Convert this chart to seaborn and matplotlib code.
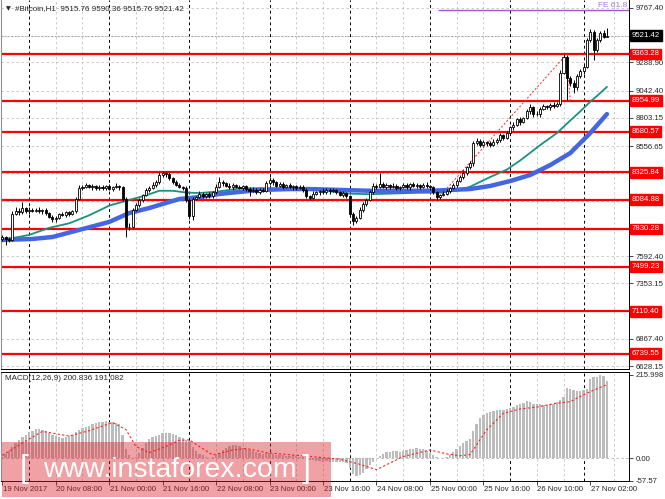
import numpy as np
import matplotlib
matplotlib.use("Agg")
import matplotlib.pyplot as plt
import matplotlib.transforms as mtransforms
from matplotlib.patches import Rectangle
import seaborn as sns

# hourly candles, bar 0 = 19 Nov 16:00
first_open = 7745
closes = [
    7760, 7740, 7735, 7965, 7990, 7975, 8010, 7985, 8000, 7990,
    8000, 7985, 7995, 7970, 7935, 7915, 7930, 7960, 7950, 7975,
    7960, 7985, 8090, 8190, 8200, 8215, 8195, 8205, 8185, 8200,
    8190, 8205, 8180, 8195, 8210, 8195, 8090, 7845, 7850, 8000,
    8040, 8085, 8125, 8170, 8190, 8215, 8240, 8300, 8320, 8310,
    8275, 8245, 8215, 8200, 8190, 8085, 7940, 8095, 8110, 8140,
    8120, 8135, 8115, 8150, 8200, 8245, 8230, 8210, 8195, 8215,
    8200, 8190, 8205, 8180, 8160, 8175, 8155, 8170, 8165, 8230,
    8260, 8240, 8210, 8225, 8200, 8215, 8195, 8205, 8190, 8200,
    8170, 8120, 8105, 8140, 8150, 8165, 8150, 8175, 8160, 8170,
    8150, 8130, 8145, 8115, 7960, 7900, 7925, 8000, 8050, 8085,
    8150, 8210, 8200, 8225, 8200, 8215, 8195, 8210, 8190, 8200,
    8215, 8195, 8225, 8205, 8215, 8200, 8220, 8205, 8195, 8150,
    8110, 8125, 8140, 8165, 8190, 8215, 8250, 8285, 8320, 8370,
    8405, 8585, 8600, 8570, 8595, 8580, 8565, 8595, 8610, 8650,
    8630, 8670, 8720, 8745, 8790, 8770, 8800, 8860, 8895, 8840,
    8835, 8880, 8905, 8895, 8915, 8905, 8925, 9200, 9340, 9150,
    9110, 9070, 9170, 9210, 9250, 9486, 9556, 9398, 9486, 9547,
    9516, 9521.42,
]
wick_hi = [
    15, 10, 20, 25, 30, 20, 57, 15, 20, 10,
    15, 20, 10, 15, 10, 20, 15, 10, 20, 15,
    10, 15, 20, 25, 15, 20, 10, 20, 15, 20,
    15, 10, 20, 15, 20, 10, 15, 20, 30, 15,
    20, 15, 10, 20, 15, 25, 20, 30, 20, 15,
    20, 10, 15, 20, 10, 15, 20, 15, 10, 20,
    15, 10, 20, 15, 25, 40, 15, 10, 20, 15,
    10, 20, 15, 10, 15, 20, 10, 15, 20, 25,
    30, 15, 10, 20, 15, 10, 20, 15, 10, 15,
    20, 15, 10, 20, 15, 10, 20, 15, 10, 15,
    10, 15, 20, 10, 15, 20, 15, 25, 20, 15,
    20, 25, 15, 95, 20, 15, 10, 20, 15, 10,
    15, 20, 10, 15, 20, 10, 15, 20, 10, 15,
    10, 15, 20, 15, 10, 20, 15, 20, 25, 15,
    20, 15, 25, 20, 15, 10, 20, 25, 15, 20,
    15, 20, 10, 25, 15, 20, 15, 20, 30, 15,
    20, 15, 20, 15, 20, 25, 15, 20, 25, 15,
    20, 25, 15, 20, 15, 20, 26, 15, 20, 15,
    25, 69,
]
wick_lo = [
    20, 50, 15, 10, 15, 20, 10, 15, 20, 15,
    10, 15, 20, 15, 10, 20, 25, 15, 10, 15,
    15, 10, 15, 10, 20, 15, 10, 20, 15, 10,
    15, 20, 10, 15, 10, 20, 15, 85, 25, 15,
    10, 20, 15, 10, 15, 10, 20, 15, 10, 20,
    15, 20, 10, 15, 20, 15, 20, 30, 15, 10,
    20, 15, 10, 15, 10, 15, 20, 10, 15, 20,
    15, 10, 20, 15, 40, 10, 20, 15, 10, 15,
    10, 20, 15, 10, 20, 15, 10, 20, 15, 10,
    15, 20, 25, 10, 15, 20, 10, 15, 20, 10,
    15, 10, 20, 15, 20, 35, 15, 10, 20, 15,
    10, 15, 20, 15, 10, 20, 15, 10, 15, 20,
    10, 15, 20, 10, 15, 20, 10, 15, 20, 15,
    25, 15, 10, 15, 20, 10, 15, 10, 20, 15,
    10, 20, 15, 25, 15, 20, 15, 10, 20, 15,
    20, 15, 10, 20, 15, 25, 15, 10, 20, 30,
    15, 20, 10, 15, 20, 15, 10, 20, 15, 190,
    30, 48, 20, 15, 20, 10, 15, 88, 20, 15,
    10, 0,
]

# moving averages (sampled along the chart)
teal_idx = [0, 8, 14, 20, 26, 32, 38, 43, 47, 51, 55, 59, 65, 71, 77, 83, 89,
            95, 98, 104, 110, 116, 125, 131, 136, 140, 146, 151, 155, 161, 166,
            170, 173, 176, 178, 181]
teal_val = [7734, 7778, 7840, 7880, 7950, 8035, 8085, 8125, 8165, 8165, 8150,
            8145, 8160, 8185, 8188, 8182, 8188, 8175, 8160, 8140, 8135, 8140,
            8148, 8148, 8168, 8200, 8285, 8350, 8430, 8565, 8670, 8780, 8860,
            8945, 8995, 9075]
blue_idx = [0, 9, 15, 23, 32, 38, 44, 50, 53, 59, 65, 71, 77, 86, 92, 98, 104,
            110, 116, 128, 134, 140, 146, 152, 158, 164, 170, 176, 181]
blue_val = [7734, 7743, 7760, 7822, 7892, 7970, 8014, 8067, 8093, 8110, 8137,
            8155, 8172, 8180, 8180, 8175, 8170, 8165, 8165, 8165, 8172, 8180,
            8207, 8250, 8303, 8390, 8495, 8671, 8837]

# MACD(12,26,9)
macd_hist = [
    5, 12, 20, 30, 40, 48, 55, 62, 68, 72,
    76, 77, 74, 70, 66, 62, 58, 55, 54, 55,
    58, 62, 68, 74, 78, 82, 85, 90, 93, 95,
    95, 96, 95, 94, 93, 90, 60, 25, 8, 2,
    5, 15, 28, 40, 50, 55, 58, 62, 65, 66,
    66, 64, 60, 56, 52, 48, 44, 30, 20, 12,
    8, 4, 2, 3, 8, 15, 22, 28, 33, 36,
    35, 32, 28, 25, 22, 19, 16, 14, 12, 14,
    15, 12, 10, 8, 9, 7, 6, 8, 7, 5,
    3, -2, -5, -4, -6, -7, -8, -6, -9, -10,
    -8, -9, -10, -12, -25, -40, -46, -44, -38, -28,
    -18, -8, 0, 6, 12, 16, 18, 19, 20, 18,
    20, 22, 24, 25, 26, 25, 24, 20, 14, 8,
    3, 0, 2, 5, 10, 18, 25, 32, 40, 45,
    50, 70, 90, 105, 113, 117, 120, 124, 125, 126,
    126, 128, 130, 134, 138, 140, 143, 149, 145, 142,
    140, 141, 138, 139, 142, 140, 145, 150, 160, 182,
    180, 178, 175, 174, 176, 180, 205, 210, 212, 216,
    214, 201,
]
signal_idx = [0, 6, 12, 20, 26, 33, 37, 40, 44, 49, 53, 56, 59, 63, 69, 73, 79,
              87, 95, 101, 107, 112, 120, 128, 133, 137, 140, 145, 150, 155,
              160, 166, 170, 176, 181]
signal_val = [8, 40, 70, 58, 72, 93, 75, 31, 15, 31, 47, 48, 31, 9, 22, 26, 15,
              9, 3, -2, -15, -29, 5, 22, 12, 7, 10, 74, 117, 128, 133, 143,
              147, 173, 191]

# levels and labels
levels = [9363.28, 8954.99, 8680.57, 8325.84, 8084.88, 7830.28, 7499.23,
          7110.40, 6739.55]
price_ticks = [9767.40, 9288.90, 9042.40, 8803.15, 8556.65, 7592.40, 7353.15,
               6867.40, 6628.15]
grid_levels = [9767.40, 9525.0, 9288.90, 9042.40, 8803.15, 8556.65, 8318.0,
               8077.0, 7835.5, 7592.40, 7353.15, 7111.0, 6867.40, 6628.15]
last_price = 9521.42
fe_level = 9745
fib_idx = [130, 169, 170]
fib_val = [8084.88, 9363.28, 8954.99]

date_idx = [0, 16, 32, 48, 64, 80, 96, 112, 128, 144, 160, 176]
date_labels = ["19 Nov 2017", "20 Nov 08:00", "21 Nov 00:00", "21 Nov 16:00",
               "22 Nov 08:00", "23 Nov 00:00", "23 Nov 16:00", "24 Nov 08:00",
               "25 Nov 00:00", "25 Nov 16:00", "26 Nov 10:00", "27 Nov 02:00"]
day_breaks = [8, 32, 56, 80, 104, 128, 152, 174]
grid_bars = [16, 24, 40, 48, 64, 72, 88, 96, 112, 120, 136, 144, 160, 168, 183]

sns.set_style("white")
plt.rcParams["font.family"] = ["Liberation Sans", "DejaVu Sans"]

W, H = 665, 499
fig = plt.figure(figsize=(W / 100, H / 100), dpi=100)
ax = fig.add_axes([1 / W, 1 - 369 / H, 628 / W, 369 / H])
mx = fig.add_axes([1 / W, 1 - 481 / H, 628 / W, 109 / H])

XMIN, XMAX = -0.39, 187.6
GRID = "#c4c4c4"
DASH = (0, (3, 3))
FS = 5.6

for a in (ax, mx):
    for g in grid_bars:
        a.axvline(g, color=GRID, lw=0.6, ls=DASH, zorder=1)
    for d in day_breaks:
        a.axvline(d, color="black", lw=0.7, ls=DASH, zorder=1)

for g in grid_levels:
    ax.axhline(g, color=GRID, lw=0.6, ls=DASH, zorder=1)
ax.axhline(last_price, color="#9a9a9a", lw=0.6, ls=(0, (2, 2)), zorder=1)

for lv in levels:
    ax.axhline(lv, color="#ff0000", lw=1.6, zorder=2)
ax.hlines(fe_level, 130.4, XMAX, color="#a555dd", lw=1.0, zorder=2)
ax.plot(fib_idx, fib_val, color="#ff2020", lw=0.7, ls=(0, (2, 2)), zorder=3)

# moving averages
sns.lineplot(x=teal_idx, y=teal_val, ax=ax, color="#1a9080", lw=1.3, zorder=3)
sns.lineplot(x=blue_idx, y=blue_val, ax=ax, color="#4466e0", lw=3.2, zorder=3)

# candles
c = np.array(closes, dtype=float)
o = np.array([first_open] + closes[:-1], dtype=float)
top = np.maximum(o, c)
bot = np.minimum(o, c)
hi = top + np.array(wick_hi)
lo = bot - np.array(wick_lo)
x = np.arange(len(c))
ax.vlines(x, lo, hi, color="black", lw=0.7, zorder=4)
body = np.maximum(top - bot, 4)
up = c >= o
ax.bar(x[up], body[up], bottom=bot[up], width=0.62, color="white",
       edgecolor="black", lw=0.6, zorder=5)
ax.bar(x[~up], body[~up], bottom=bot[~up], width=0.62, color="black",
       edgecolor="black", lw=0.6, zorder=5)

ax.set_xlim(XMIN, XMAX)
ax.set_ylim(6604, 9836)
ax.set_xticks([])
ax.yaxis.tick_right()
ax.set_yticks(price_ticks)
ax.set_yticklabels([f"{v:.2f}" for v in price_ticks])
ax.tick_params(axis="y", length=3, width=0.6, pad=2, labelsize=FS)
ax.set_xlabel("")
ax.set_ylabel("")

yt = mtransforms.blended_transform_factory(ax.transAxes, ax.transData)
for lv in levels:
    ax.text(1.004, lv, f"{lv:.2f}", transform=yt, ha="left", va="center",
            color="white", fontsize=FS, clip_on=False, zorder=6,
            bbox=dict(boxstyle="square,pad=0.25", fc="#ff0000", ec="#ff0000"))
ax.text(1.004, last_price, f"{last_price:.2f}", transform=yt, ha="left",
        va="center", color="white", fontsize=FS, clip_on=False, zorder=6,
        bbox=dict(boxstyle="square,pad=0.25", fc="black", ec="black"))
ax.text(0.997, fe_level + 12, "FE 61.8", transform=yt, ha="right",
        va="bottom", color="#b070e0", fontsize=FS + 0.4)

# MACD panel
sns.barplot(x=list(range(len(macd_hist))), y=macd_hist, ax=mx,
            native_scale=True, color="#bcbcbc", saturation=1, width=0.7,
            errorbar=None, linewidth=0)
mx.axhline(0, color="#b0b0b0", lw=0.6, ls=DASH, zorder=1)
sns.lineplot(x=signal_idx, y=signal_val, ax=mx, color="#ff2020", lw=0.8,
             ls=(0, (2, 2)), zorder=4)
mx.set_xlim(XMIN, XMAX)
mx.set_ylim(-58.3, 223.7)
mx.yaxis.tick_right()
mx.set_yticks([215.998, 0, -57.57])
mx.set_yticklabels(["215.998", "0.00", "-57.57"])
mx.tick_params(axis="y", length=3, width=0.6, pad=2, labelsize=FS)
mx.set_xticks(date_idx)
mx.set_xticklabels([""] * len(date_idx))
mx.tick_params(axis="x", length=3, width=0.6, direction="out", bottom=True)
mx.set_xlabel("")
mx.set_ylabel("")
xt = mtransforms.blended_transform_factory(mx.transData, mx.transAxes)
for i, lab in zip(date_idx, date_labels):
    mx.text(i + 0.2, -0.045, lab, transform=xt, ha="left", va="top",
            fontsize=FS, clip_on=False)

for a in (ax, mx):
    for side in ("top", "bottom", "right"):
        a.spines[side].set_color("black")
        a.spines[side].set_linewidth(0.7)
    a.spines["left"].set_color("#909090")
    a.spines["left"].set_linewidth(0.8)
ax.spines["top"].set_visible(False)

fig.text(6 / W, 1 - 9 / H, "\u25bc", fontsize=4.5, va="center",
         family=["DejaVu Sans"])
fig.text(15 / W, 1 - 9 / H, "#Bitcoin,H1  9515.76 9590.36 9515.76 9521.42",
         fontsize=FS + 0.2, va="center")
fig.text(5 / W, 1 - 378 / H, "MACD(12,26,9) 200.836 191.082",
         fontsize=FS + 0.2, va="center")

# watermark
fig.patches.append(Rectangle((2 / W, 1 - 497 / H), 329 / W, 55 / H,
                             transform=fig.transFigure, fc=(0.86, 0.12, 0.16),
                             ec="none", alpha=0.42, zorder=10))
fig.text(20 / W, 1 - 469 / H, "[", color="white", fontsize=23, va="center",
         ha="left", zorder=11)
fig.text(302 / W, 1 - 469 / H, "]", color="white", fontsize=23, va="center",
         ha="left", zorder=11)
fig.text(43 / W, 1 - 470 / H, "www.instaforex.com", color="white",
         fontsize=20.5, va="center", ha="left", zorder=11)

fig.savefig("out.png", dpi=100)
